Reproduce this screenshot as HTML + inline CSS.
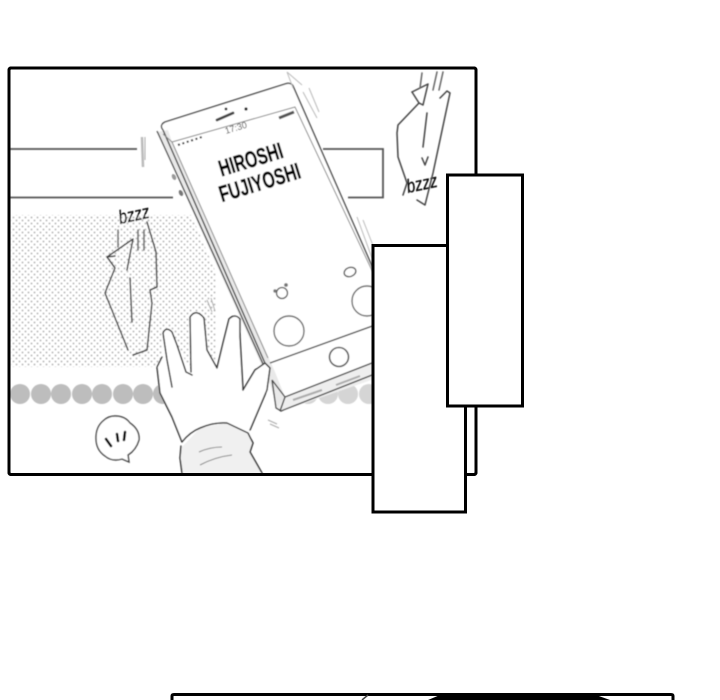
<!DOCTYPE html>
<html><head><meta charset="utf-8"><style>html,body{margin:0;padding:0;background:#fff;width:720px;height:700px;overflow:hidden}svg{display:block}</style></head>
<body>
<svg xmlns="http://www.w3.org/2000/svg" width="720" height="700" viewBox="0 0 720 700">
<defs>
<pattern id="d" width="6" height="6" patternUnits="userSpaceOnUse"><rect width="6" height="6" fill="#fff"/><circle cx="1.5" cy="1.5" r="1" fill="#b8b8b8"/><circle cx="4.5" cy="4.5" r="1" fill="#b8b8b8"/></pattern>
<filter id="b" x="-5%" y="-5%" width="110%" height="110%"><feGaussianBlur stdDeviation=".4"/></filter>
</defs>
<rect width="720" height="700" fill="#fff"/>
<rect x="9" y="68" width="467" height="406.5" rx="2" fill="#fff" stroke="#000" stroke-width="3"/>

<g filter="url(#b)">
<rect x="11" y="215" width="205" height="152" fill="url(#d)"/>
<g fill="#bdbdbd"><circle cx="20" cy="394" r="10"/><circle cx="41" cy="394" r="10"/><circle cx="61" cy="394" r="10"/><circle cx="82" cy="394" r="10"/><circle cx="102" cy="394" r="10"/><circle cx="123" cy="394" r="10"/><circle cx="143" cy="394" r="10"/><circle cx="163" cy="394" r="10"/><circle cx="308" cy="394" r="10" fill="#d5d5d5"/><circle cx="328" cy="394" r="10" fill="#d5d5d5"/><circle cx="348" cy="394" r="10" fill="#d5d5d5"/><circle cx="369" cy="394" r="10" fill="#d5d5d5"/></g>

<g fill="none" stroke="#555" stroke-width="1.8">
<path d="M10 149H137M10 197.5H173M323 149H383V197.5H348"/>
</g>
<path d="M142 137L143 167" stroke="#bbb" stroke-width="2.5" fill="none"/>
<path d="M145 137V160" stroke="#999" stroke-width=".8" fill="none"/>

<!-- phone -->
<path d="M160 124L287 83Q292 82 294 87L400 330V366L285 411L279 411Q274 411 271 402L157 134Q155 127 160 124Z" fill="#fff"/>
<path d="M157 132L270 384L277 408L285 397L275 372L172 142L168 130Z" fill="#e9e9e9"/>
<path d="M277 408L285 397L400 352V370L282 411Z" fill="#eee"/>
<g fill="none" stroke="#444" stroke-width="1.4" stroke-linejoin="round">
<path d="M268 370L163 130Q159 125 165 122L285 84Q291 82 293 86L400 330"/>
<path d="M157 131L216 260L268 375"/>
<path d="M270 363L400 316"/>
<path d="M285 397L400 352"/>
<path d="M272 380L276 408L281 411L400 364"/>
<path d="M272 380L285 397L280 411"/>
</g>
<g fill="none" stroke="#888" stroke-width="1">
<path d="M268 358L172 142L295 107L400 330"/>
<path d="M163 134L172 142"/>
</g>
<path d="M293 88L287 72M287 72L302 85M303 92L317 118M309 88L319 112M357 217L372 258M363 220L374 248" stroke="#bbb" stroke-width="1" fill="none"/>
<ellipse cx="174" cy="177" rx="2" ry="3.2" fill="#999" transform="rotate(-25 174 177)"/>
<ellipse cx="181" cy="193" rx="2" ry="3.2" fill="#777" transform="rotate(-25 181 193)"/>
<path d="M217 120L233 113" stroke="#444" stroke-width="2.8" stroke-linecap="round"/>
<circle cx="226" cy="109" r="1.4" fill="#222"/><circle cx="246" cy="109" r="1.6" fill="#222"/>
<path d="M178 145L202 137" stroke="#333" stroke-width="2" stroke-dasharray="2 2.6" fill="none"/>
<path d="M279 118L294 112" stroke="#555" stroke-width="3" fill="none"/>
<text x="0" y="0" transform="translate(226 134) rotate(-17)" font-family="Liberation Sans, sans-serif" font-size="9" fill="#444">17:30</text>
<circle cx="282" cy="293" r="5.5" fill="#fff" stroke="#555" stroke-width="1.3"/><circle cx="275" cy="291" r="1.7" fill="#777"/><circle cx="286" cy="285" r="1.9" fill="#777"/>
<circle cx="289" cy="331" r="15" fill="#fff" stroke="#666" stroke-width="1.4"/>
<ellipse cx="350" cy="272" rx="6" ry="4.5" fill="#fff" stroke="#555" stroke-width="1.4" transform="rotate(-20 350 272)"/>
<circle cx="367" cy="301" r="15" fill="#fff" stroke="#666" stroke-width="1.4"/>
<circle cx="339" cy="357" r="9.5" fill="#fff" stroke="#555" stroke-width="1.6"/>
<path d="M293 400L322 390M336 385L360 376" stroke="#aaa" stroke-width="2" fill="none"/>
<g font-family="Liberation Sans, sans-serif" font-weight="700" font-size="23" fill="#000" stroke="#000" stroke-width=".35" text-anchor="middle">
<text transform="translate(253 167) rotate(-17)" textLength="66" lengthAdjust="spacingAndGlyphs">HIROSHI</text>
<text transform="translate(262 190) rotate(-17)" textLength="84" lengthAdjust="spacingAndGlyphs">FUJIYOSHI</text>
</g>

<!-- hand -->
<path d="M182 474L180 447L182 442L172 417L160 393L157 367L162 357L163 333Q166 326 172 332L177 345L192 373L190 317Q196 308 204 318L207 350L217 368L223 343L229 319Q235 313 240 319L240 337L243 390L255 370L265 363L270 368L267 390L250 430L253 443L250 452L262 474Z" fill="#fff"/>
<path d="M181 448L200 428L227 423L248 433L253 443L250 452L262 473H182Z" fill="#f0f0f0"/>
<g fill="none" stroke="#333" stroke-width="1.5" stroke-linejoin="round" stroke-linecap="round">
<path d="M182 442L172 417L160 393L157 367L162 357"/>
<path d="M172 387L167 360L163 333Q166 326 172 332L177 345L186 372L192 375"/>
<path d="M191 372L190 317Q196 308 204 318L207 350L217 368L223 343L229 319Q235 313 240 319L240 337L243 390"/>
<path d="M243 390L255 370L265 363L270 368L267 390L250 430"/>
<path d="M182 442Q190 432 200 428Q214 422 227 423L248 433L253 443L250 452L262 473"/>
<path d="M181 446L180 458L182 473"/>
</g>
<path d="M199 452Q210 447 222 447M200 465Q215 457 232 455" stroke="#888" stroke-width="1" fill="none"/>
<path d="M207 300L212 312M211 298L215 311M268 420L277 424M270 424L279 428" stroke="#aaa" stroke-width="1" fill="none"/>

<!-- bubble -->
<path d="M115 416Q125 416 130 423Q140 430 139 440Q136 450 128 455L129 462L122 459Q112 462 105 456Q96 450 96 438Q96 427 103 421Q108 416 115 416Z" fill="#fff" stroke="#444" stroke-width="1.4"/>
<path d="M106 439L111 446M117 434L118 441M125 432L124 440" stroke="#000" stroke-width="2.6" stroke-linecap="round"/>

<!-- left shape -->
<g fill="none" stroke="#444" stroke-width="1.5" stroke-linecap="round" stroke-linejoin="round">
<path d="M115 256L107 257L115 268L105 293L128 350"/>
<path d="M107 257L133 239L127 270"/>
<path d="M147 222L156 252L157 287L150 290L152 303L147 350L133 355"/>
<path d="M130 278L132 322"/>
<path d="M118 230V247M138 230V250M144 230V250" stroke="#666"/>
</g>
<g font-family="Liberation Sans, sans-serif" font-style="italic" font-size="19" fill="#000" stroke="#000" stroke-width=".25">
<text transform="translate(120 224) rotate(-12)" textLength="31" lengthAdjust="spacingAndGlyphs">bzzz</text>
<text transform="translate(408 193) rotate(-12)" textLength="31" lengthAdjust="spacingAndGlyphs">bzzz</text>
</g>

<!-- right shape -->
<g fill="none" stroke="#444" stroke-width="1.5" stroke-linecap="round" stroke-linejoin="round">
<path d="M412 92L428 84L423 105L419 103L398 125L397 133L398 157L407 183L403 195"/>
<path d="M412 92L419 103"/>
<path d="M417 200L425 205L433 173L450 93L447 91L440 98"/>
<path d="M427 113L423 147M422 158L425 165L428 157"/>
<path d="M422 73L420 88M437 72L433 90M443 72L439 90" stroke="#666"/>
</g>
</g>

<rect x="9" y="68" width="467" height="406.5" rx="2" fill="none" stroke="#000" stroke-width="3"/>
<rect x="373" y="245.5" width="92.5" height="266.5" fill="#fff" stroke="#000" stroke-width="3"/>
<rect x="447.5" y="175" width="75" height="231" fill="#fff" stroke="#000" stroke-width="3"/>

<!-- bottom panel -->
<path d="M172 702V696Q172 694.5 174 694.5H671Q673 694.5 673 696V702" fill="#fff" stroke="#000" stroke-width="3"/>
<path d="M428 700L440 695H596L610 700Z" fill="#000"/>
<path d="M362 700L368 695" stroke="#444" stroke-width="1.5"/>
</svg>
</body></html>
